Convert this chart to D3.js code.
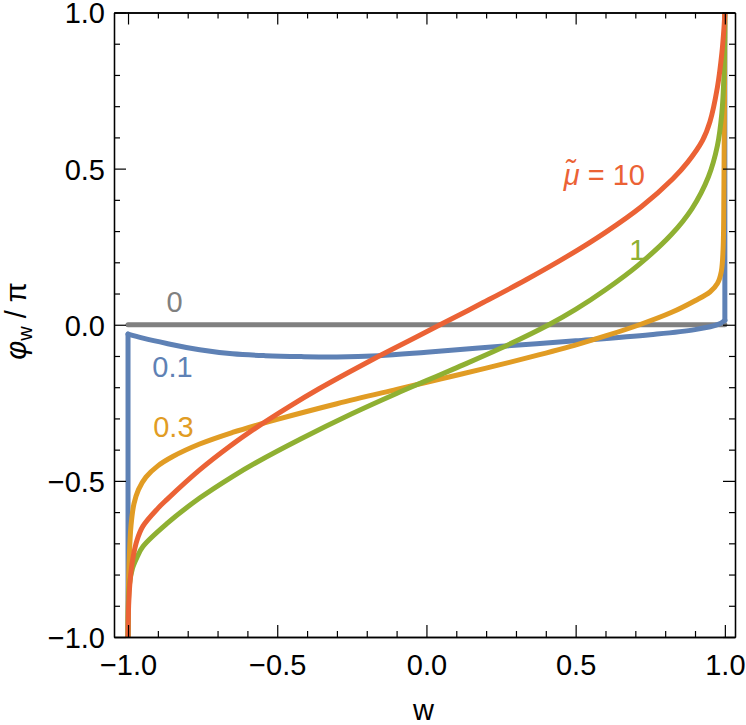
<!DOCTYPE html>
<html>
<head>
<meta charset="utf-8">
<script src="https://cdn.jsdelivr.net/npm/d3@7"></script>
<style>
  body { margin: 0; background: #fff; }
  text { font-family: "Liberation Sans", Arial, sans-serif; }
</style>
</head>
<body>
<div id="chart"></div>
<script>
const width = 746;
const height = 725;

// series: mu~ = 0, 0.1, 0.3, 1, 10  (w, phi_w / pi)
const w0 = [-1, 1];
const phi0 = [0, 0];

const w01 = [-1, -1, -0.95, -0.87, -0.76, -0.65, -0.54, -0.42, -0.3, -0.16, 0, 0.25, 0.5, 0.75, 0.9, 0.98, 1, 1];
const phi01 = [-1, -0.03, -0.043, -0.06, -0.08, -0.093, -0.099, -0.102, -0.103, -0.099, -0.088, -0.069, -0.0515, -0.032, -0.0155, 0.002, 0.014, 1];

const w03 = [-1, -0.999, -0.996, -0.99, -0.98, -0.965, -0.94, -0.9, -0.85, -0.76, -0.65, -0.56, -0.5, -0.3, -0.1, 0.05, 0.2, 0.35, 0.51, 0.6, 0.714, 0.82, 0.9, 0.95, 0.975, 0.988, 0.994, 0.997, 1];
const phi03 = [-1, -0.87, -0.75, -0.643, -0.573, -0.528, -0.488, -0.452, -0.422, -0.382, -0.345, -0.319, -0.303, -0.253, -0.207, -0.173, -0.139, -0.103, -0.062, -0.036, 0, 0.039, 0.077, 0.105, 0.132, 0.17, 0.24, 0.45, 1];

const w1 = [-1, -0.999, -0.995, -0.985, -0.97, -0.95, -0.87, -0.76, -0.65, -0.57, -0.42, -0.25, -0.1, 0, 0.1, 0.245, 0.41, 0.5, 0.6, 0.71, 0.82, 0.89, 0.945, 0.975, 0.99, 0.997, 1];
const phi1 = [-1, -0.9, -0.83, -0.78, -0.745, -0.71, -0.637, -0.555, -0.486, -0.441, -0.365, -0.285, -0.22, -0.179, -0.138, -0.077, 0, 0.049, 0.112, 0.191, 0.288, 0.372, 0.474, 0.573, 0.678, 0.8, 1];

const w10 = [-1, -0.998, -0.993, -0.984, -0.97, -0.95, -0.9, -0.87, -0.76, -0.66, -0.56, -0.46, -0.36, -0.26, -0.16, -0.06, 0.044, 0.19, 0.334, 0.47, 0.6, 0.72, 0.825, 0.875, 0.925, 0.95, 0.975, 0.99, 0.997, 1];
const phi10 = [-1, -0.9, -0.82, -0.75, -0.69, -0.645, -0.588, -0.56, -0.465, -0.39, -0.323, -0.262, -0.205, -0.152, -0.101, -0.052, -0.001, 0.071, 0.144, 0.218, 0.296, 0.378, 0.467, 0.52, 0.59, 0.65, 0.76, 0.87, 0.95, 1];

const seriesColors = ["#808080", "#5E81B5", "#E19C24", "#8FB032", "#EB6235"];

// curve labels: text, position (w, phi) of label baseline centre
const labelTexts = ["0", "0.1", "0.3", "1", "\u03BC\u0303 = 10"];
const labelW = [-0.844, -0.851, -0.848, 0.707, 0.596];
const labelPhi = [0.042, -0.166, -0.358, 0.208, 0.448];

// ticks
const majorTicks = [-1, -0.5, 0, 0.5, 1];
const majorLabels = ["\u22121.0", "\u22120.5", "0.0", "0.5", "1.0"];
const minorTicks = d3.range(-10, 11).map(d => d / 10).filter(d => Math.abs(d * 2 - Math.round(d * 2)) > 1e-9);

const svg = d3.select("#chart")
  .append("svg")
  .attr("width", width)
  .attr("height", height)
  .style("background", "#fff");

const plotLeft = 114, plotRight = 735, plotTop = 12.5, plotBottom = 637;

const x = d3.scaleLinear().domain([-1.047, 1.034]).range([plotLeft, plotRight]);
const y = d3.scaleLinear().domain([-1, 1]).range([plotBottom, plotTop]);

svg.append("clipPath").attr("id", "plotclip")
  .append("rect")
  .attr("x", plotLeft).attr("y", plotTop)
  .attr("width", plotRight - plotLeft).attr("height", plotBottom - plotTop);

// break a series into pieces: vertical jumps are straight, the rest smooth
function pieces(ws, ys) {
  const pts = ws.map((w, i) => [w, ys[i]]);
  const out = [];
  let cur = [pts[0]];
  for (let i = 1; i < pts.length; i++) {
    if (pts[i][0] === pts[i - 1][0]) {
      if (cur.length > 1) out.push({ pts: cur, straight: false });
      out.push({ pts: [pts[i - 1], pts[i]], straight: true });
      cur = [pts[i]];
    } else {
      cur.push(pts[i]);
    }
  }
  if (cur.length > 1) out.push({ pts: cur, straight: false });
  return out;
}

const smoothLine = d3.line().x(d => x(d[0])).y(d => y(d[1])).curve(d3.curveCatmullRom.alpha(0.5));
const straightLine = d3.line().x(d => x(d[0])).y(d => y(d[1]));

const allSeries = [[w0, phi0], [w01, phi01], [w03, phi03], [w1, phi1], [w10, phi10]];

const plot = svg.append("g").attr("clip-path", "url(#plotclip)");
allSeries.forEach((s, i) => {
  pieces(s[0], s[1]).forEach(p => {
    plot.append("path")
      .attr("d", p.straight ? straightLine(p.pts) : smoothLine(p.pts))
      .attr("fill", "none")
      .attr("stroke", seriesColors[i])
      .attr("stroke-width", 5)
      .attr("stroke-linejoin", "round")
      .attr("stroke-linecap", "round");
  });
});

// curve labels
labelTexts.forEach((t, i) => {
  const txt = svg.append("text")
    .attr("x", x(labelW[i]))
    .attr("y", y(labelPhi[i]))
    .attr("text-anchor", "middle")
    .attr("font-size", 29)
    .attr("fill", seriesColors[i]);
  if (i === 4) {
    txt.append("tspan").attr("font-style", "italic").text("\u03BC\u0303");
    txt.append("tspan").text(" = 10");
  } else {
    txt.text(t);
  }
});

// frame axes, ticks inward
function styleAxis(g) {
  g.selectAll(".domain").attr("stroke", "#000").attr("stroke-width", 1.3);
  g.selectAll(".tick line").attr("stroke", "#000").attr("stroke-width", 1.2);
  g.selectAll("text").attr("font-size", 29).attr("fill", "#000")
    .style("font-family", "'Liberation Sans', Arial, sans-serif");
}

const fmt = d => majorLabels[majorTicks.indexOf(d)];

svg.append("g").attr("transform", `translate(0,${plotBottom})`)
  .call(d3.axisBottom(x).tickValues(majorTicks).tickFormat(fmt).tickSizeInner(-12).tickSizeOuter(0).tickPadding(17))
  .call(styleAxis);
svg.append("g").attr("transform", `translate(0,${plotBottom})`)
  .call(d3.axisBottom(x).tickValues(minorTicks).tickFormat("").tickSizeInner(-6).tickSizeOuter(0))
  .call(styleAxis);
svg.append("g").attr("transform", `translate(0,${plotTop})`)
  .call(d3.axisTop(x).tickValues(majorTicks).tickFormat("").tickSizeInner(-12).tickSizeOuter(0))
  .call(styleAxis);
svg.append("g").attr("transform", `translate(0,${plotTop})`)
  .call(d3.axisTop(x).tickValues(minorTicks).tickFormat("").tickSizeInner(-6).tickSizeOuter(0))
  .call(styleAxis);

svg.append("g").attr("transform", `translate(${plotLeft},0)`)
  .call(d3.axisLeft(y).tickValues(majorTicks).tickFormat(fmt).tickSizeInner(-12).tickSizeOuter(0).tickPadding(9))
  .call(styleAxis)
  .selectAll("text").attr("dy", "0.36em");
svg.append("g").attr("transform", `translate(${plotLeft},0)`)
  .call(d3.axisLeft(y).tickValues(minorTicks).tickFormat("").tickSizeInner(-6).tickSizeOuter(0))
  .call(styleAxis);
svg.append("g").attr("transform", `translate(${plotRight},0)`)
  .call(d3.axisRight(y).tickValues(majorTicks).tickFormat("").tickSizeInner(-12).tickSizeOuter(0))
  .call(styleAxis);
svg.append("g").attr("transform", `translate(${plotRight},0)`)
  .call(d3.axisRight(y).tickValues(minorTicks).tickFormat("").tickSizeInner(-6).tickSizeOuter(0))
  .call(styleAxis);

// axis titles
svg.append("text")
  .attr("x", (plotLeft + plotRight) / 2 - 1)
  .attr("y", 720)
  .attr("text-anchor", "middle")
  .attr("font-size", 29)
  .text("w");

const ylab = svg.append("text")
  .attr("transform", "translate(26,321) rotate(-90)")
  .attr("text-anchor", "middle")
  .attr("font-size", 29);
ylab.append("tspan").attr("font-style", "italic").text("\u03C6");
ylab.append("tspan").attr("font-size", 20).attr("dy", 6).text("w");
ylab.append("tspan").attr("dy", -6).text(" / \u03C0");
</script>
</body>
</html>
